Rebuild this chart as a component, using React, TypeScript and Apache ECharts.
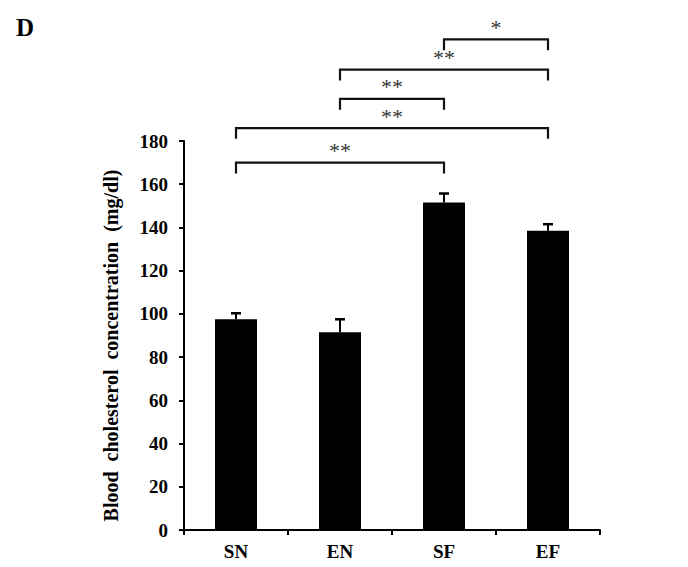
import React, { useEffect, useRef } from "react";
import * as echarts from "echarts";

const categories = ["SN", "EN", "SF", "EF"];
const means = [97.5, 91.5, 151.5, 138.5];
const errors = [2.8, 6, 4.2, 3];
const yMin = 0;
const yMax = 180;
const yInterval = 20;
// [fromIndex, toIndex, bracket level (mg/dl units), significance label]
const comparisons: [number, number, number, string][] = [
  [0, 2, 170, "**"],
  [0, 3, 186, "**"],
  [1, 2, 199.5, "**"],
  [1, 3, 213, "**"],
  [2, 3, 227, "*"],
];
const bracketLeg = 5;
const panelLabel = "D";
const yName = "Blood  cholesterol  concentration  (mg/dl)";

const SERIF = "'Liberation Serif', 'Times New Roman', serif";

export default function App() {
  const ref = useRef<HTMLDivElement>(null);
  useEffect(() => {
    document.body.style.margin = "0";
    if (!ref.current) return;
    const chart = echarts.init(ref.current, undefined, { renderer: "svg" });
    chart.setOption({
      animation: false,
      backgroundColor: "#fff",
      title: {
        text: panelLabel,
        left: 11,
        top: 10,
        textStyle: { fontFamily: SERIF, fontWeight: "bold", fontSize: 25, color: "#000" },
      },
      grid: { left: 184, top: 141, right: 88, bottom: 37, containLabel: false },
      xAxis: {
        type: "category",
        data: categories,
        axisLine: { lineStyle: { color: "#000", width: 2 } },
        axisTick: { show: true, length: 5, lineStyle: { color: "#000", width: 2 } },
        axisLabel: { fontFamily: SERIF, fontWeight: "bold", fontSize: 19, color: "#000", margin: 12 },
        splitLine: { show: false },
      },
      yAxis: {
        type: "value",
        min: yMin,
        max: yMax,
        interval: yInterval,
        name: yName,
        nameLocation: "middle",
        nameGap: 63,
        nameTextStyle: {
          fontFamily: SERIF,
          fontWeight: "bold",
          fontSize: 20,
          color: "#000",
          padding: [0, 20, 0, 0],
        },
        axisLine: { show: true, lineStyle: { color: "#000", width: 2 } },
        axisTick: { show: true, length: 5, lineStyle: { color: "#000", width: 2 } },
        axisLabel: { fontFamily: SERIF, fontWeight: "bold", fontSize: 19, color: "#000", margin: 16 },
        splitLine: { show: false },
      },
      series: [
        {
          type: "bar",
          data: means,
          barWidth: 42,
          itemStyle: { color: "#000" },
        },
        {
          type: "custom",
          data: categories.map((_, i) => [i, means[i], errors[i]]),
          encode: { x: 0, y: 1 },
          z: 5,
          renderItem: (params: any, api: any) => {
            const x = api.value(0);
            const m = api.value(1);
            const e = api.value(2);
            const base = api.coord([x, m]);
            const top = api.coord([x, m + e]);
            const half = 5;
            return {
              type: "group",
              children: [
                { type: "line", shape: { x1: base[0], y1: base[1], x2: top[0], y2: top[1] }, style: { stroke: "#000", lineWidth: 2 } },
                { type: "line", shape: { x1: top[0] - half, y1: top[1], x2: top[0] + half, y2: top[1] }, style: { stroke: "#000", lineWidth: 2.5 } },
              ],
            };
          },
        },
        {
          type: "custom",
          clip: false,
          data: comparisons.map((c) => [c[0], c[1], c[2]]),
          encode: { x: [0, 1], y: 2 },
          renderItem: (params: any, api: any) => {
            const from = api.value(0);
            const to = api.value(1);
            const lvl = api.value(2);
            const a = api.coord([from, lvl]);
            const b = api.coord([to, lvl]);
            const legY = api.coord([from, lvl - bracketLeg])[1];
            const label = comparisons[params.dataIndex][3];
            return {
              type: "group",
              children: [
                {
                  type: "polyline",
                  shape: { points: [[a[0], legY], [a[0], a[1]], [b[0], a[1]], [b[0], legY]] },
                  style: { stroke: "#111", lineWidth: 2.2, fill: null },
                },
                {
                  type: "text",
                  x: (a[0] + b[0]) / 2,
                  y: a[1] - 1,
                  style: {
                    text: label,
                    fontFamily: SERIF,
                    fontSize: 22,
                    fill: "#333",
                    align: "center",
                    verticalAlign: "bottom",
                  },
                },
              ],
            };
          },
        },
      ],
    });
    return () => chart.dispose();
  }, []);
  return <div ref={ref} style={{ width: 688, height: 567 }} />;
}
